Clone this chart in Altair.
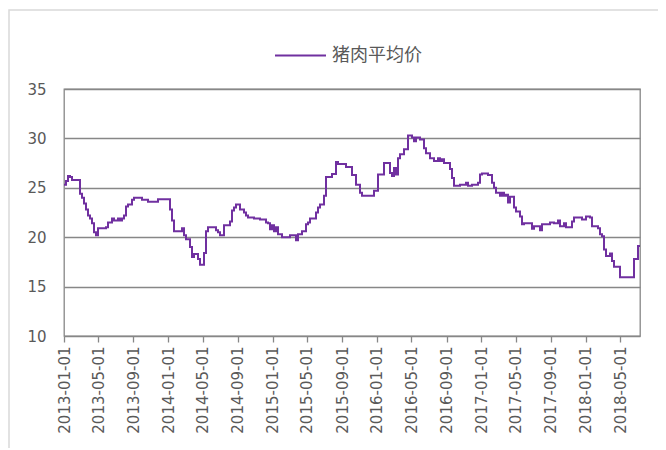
import altair as alt
import pandas as pd
import numpy as np

series_name = "猪肉平均价"

# week number since 2013-01-01 at which the price changes, and the price from then on
weeks = [
    0, 1, 2, 3, 4, 8, 9, 10, 11, 12,
    13, 14, 15, 16, 17, 21, 22, 24, 25, 27,
    28, 29, 30, 31, 32, 34, 35, 39, 42, 47,
    53, 54, 55, 59, 60, 61, 63, 64, 65, 67,
    68, 70, 71, 72, 76, 77, 78, 80, 83, 84,
    85, 86, 88, 90, 91, 92, 95, 98, 101, 102,
    103, 104, 105, 106, 107, 109, 113, 116, 117, 119,
    121, 122, 123, 126, 127, 128, 130, 131, 134, 136,
    137, 141, 144, 146, 148, 149, 155, 157, 160, 163,
    164, 165, 166, 167, 168, 170, 172, 174, 175, 176,
    178, 180, 181, 183, 185, 187, 188, 189, 190, 193,
    194, 195, 198, 201, 202, 204, 207, 208, 209, 212,
    214, 215, 216, 218, 219, 220, 221, 222, 223, 225,
    226, 228, 229, 230, 234, 235, 238, 239, 243, 245,
    247, 248, 250, 251, 254, 255, 259, 261, 263, 264,
    267, 268, 269, 270, 271, 273, 274, 275, 278, 285,
    287, 288,
]
prices = [
    25.3, 25.7, 26.2, 26.1, 25.8, 24.4, 24.0, 23.4, 22.8, 22.2,
    21.9, 21.4, 20.5, 20.2, 20.9, 21.0, 21.5, 21.9, 21.7, 21.9,
    21.7, 21.9, 22.2, 23.1, 23.3, 23.8, 24.0, 23.8, 23.6, 23.85,
    22.8, 21.7, 20.6, 20.9, 20.2, 19.8, 19.0, 18.0, 18.3, 17.8,
    17.2, 18.4, 20.6, 21.0, 20.7, 20.5, 20.2, 21.2, 21.6, 22.7,
    23.0, 23.3, 22.8, 22.5, 22.2, 22.0, 21.9, 21.8, 21.5, 21.4,
    20.8, 21.2, 20.6, 21.0, 20.3, 20.0, 20.2, 19.7, 20.3, 20.6,
    21.3, 21.5, 21.9, 22.5, 23.0, 23.3, 24.2, 26.1, 26.4, 27.6,
    27.4, 27.1, 26.3, 25.3, 24.5, 24.2, 24.7, 26.35, 27.5, 26.5,
    26.2, 27.0, 26.35, 28.0, 28.4, 28.9, 30.3, 30.1, 29.7, 30.1,
    29.9, 29.0, 28.5, 28.0, 27.7, 28.0, 27.7, 27.9, 27.5, 26.9,
    26.0, 25.2, 25.3, 25.5, 25.2, 25.3, 25.5, 26.35, 26.45, 26.3,
    25.5, 25.0, 24.5, 24.2, 24.5, 24.2, 24.3, 23.5, 24.1, 23.0,
    22.6, 22.1, 21.3, 21.4, 20.85, 21.1, 20.7, 21.3, 21.5, 21.4,
    21.7, 21.1, 21.4, 21.0, 21.6, 22.0, 21.8, 22.1, 22.0, 21.1,
    20.9, 20.3, 20.1, 18.75, 18.1, 18.35, 17.6, 17.0, 15.95, 17.8,
    19.1, 19.1,
]

tick_dates = [
    "2013-01-01", "2013-05-01", "2013-09-01", "2014-01-01", "2014-05-01",
    "2014-09-01", "2015-01-01", "2015-05-01", "2015-09-01", "2016-01-01",
    "2016-05-01", "2016-09-01", "2017-01-01", "2017-05-01", "2017-09-01",
    "2018-01-01", "2018-05-01",
]
y_ticks = [10, 15, 20, 25, 30, 35]

dates = pd.Timestamp("2013-01-01") + pd.to_timedelta(np.array(weeks) * 7, unit="D")
df = pd.DataFrame({"date": dates, "price": prices, "series": series_name})

tick_vals = [alt.DateTime(year=int(d[:4]), month=int(d[5:7]), date=int(d[8:10])) for d in tick_dates]

GRID = "#878787"
TXT = "#595959"

line = alt.Chart(df).mark_line(
    interpolate="step-after", strokeWidth=2
).encode(
    x=alt.X(
        "date:T",
        scale=alt.Scale(domain=[alt.DateTime(year=2013, month=1, date=1),
                                alt.DateTime(year=2018, month=7, date=10)]),
        axis=alt.Axis(
            values=tick_vals, format="%Y-%m-%d", labelAngle=270, grid=False,
            domain=False, ticks=True, tickColor=GRID, tickSize=6, tickWidth=1.3,
            labelPadding=4, labelFontSize=15, labelColor=TXT,
            labelFont="DejaVu Sans", labelOverlap=False, title=None,
        ),
    ),
    y=alt.Y(
        "price:Q",
        scale=alt.Scale(domain=[10, 35], nice=False, zero=False),
        axis=alt.Axis(
            values=y_ticks, grid=True, gridColor=GRID, gridWidth=1.3,
            domain=False, ticks=False, labelPadding=18, labelFontSize=15,
            labelColor=TXT, labelFont="DejaVu Sans", title=None,
        ),
    ),
    color=alt.Color(
        "series:N",
        scale=alt.Scale(range=["#7030A0"]),
        legend=alt.Legend(
            orient="none", legendX=210, legendY=-60, direction="horizontal",
            symbolType="stroke", symbolSize=2600, symbolStrokeWidth=2,
            labelFontSize=18, labelColor=TXT, labelFont="Noto Sans CJK SC",
            labelOffset=5, title=None, padding=0,
        ),
    ),
)

# light outline of the whole chart area
frame = alt.Chart(alt.Data(values=[{}])).mark_rect(
    fill=None, stroke="#d9d9d9", strokeWidth=1.5
).encode(
    x=alt.value(-55), x2=alt.value(660), y=alt.value(-79), y2=alt.value(420)
)

chart = alt.layer(frame, line).properties(
    width=576,
    height=247,
    autosize=alt.AutoSizeParams(type="none"),
    padding={"left": 56, "top": 81, "right": 18, "bottom": 112},
).configure_view(
    stroke=GRID, strokeWidth=1.3
)

chart.save("out.html", embed_options={"renderer": "svg", "actions": False})
